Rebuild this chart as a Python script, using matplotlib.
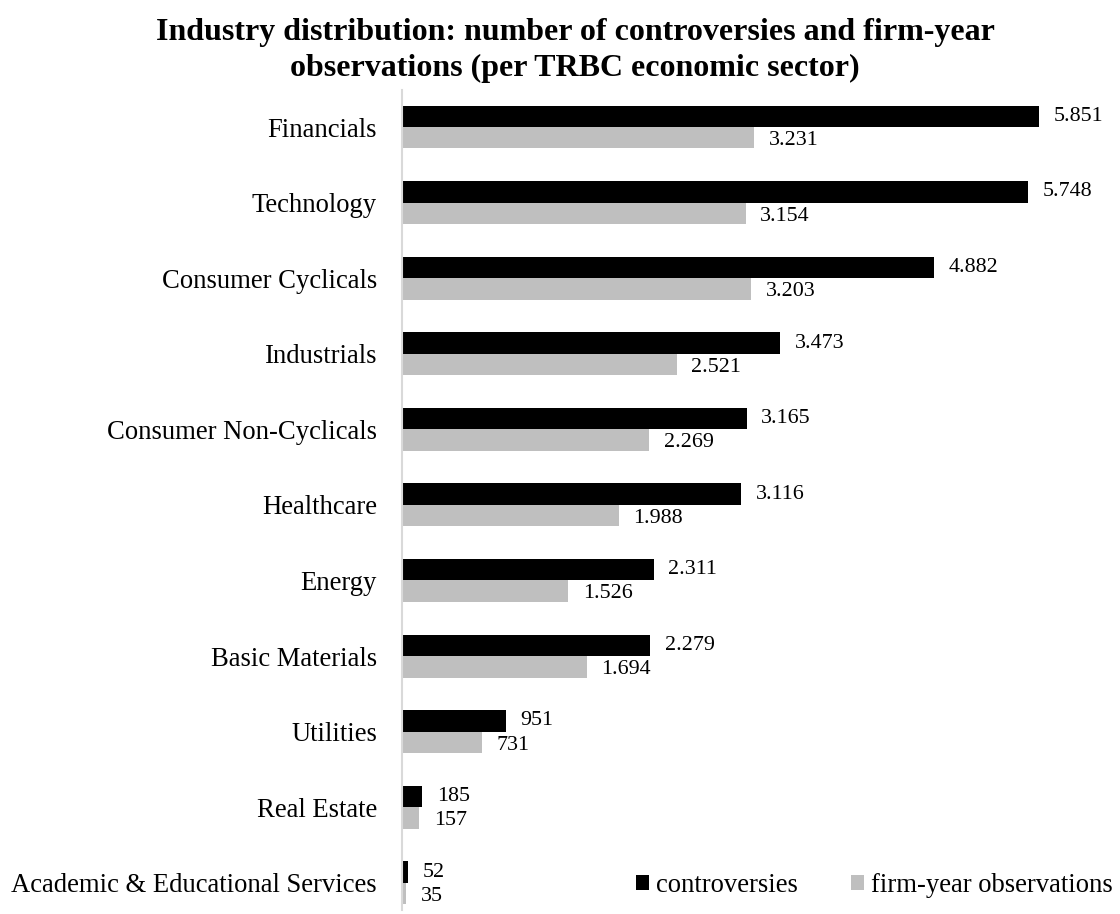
import matplotlib
matplotlib.use("Agg")
import matplotlib.pyplot as plt
import numpy as np

sectors = [
    "Financials", "Technology", "Consumer Cyclicals", "Industrials",
    "Consumer Non-Cyclicals", "Healthcare", "Energy", "Basic Materials",
    "Utilities", "Real Estate", "Academic & Educational Services",
]
controversies = [5851, 5748, 4882, 3473, 3165, 3116, 2311, 2279, 951, 185, 52]
firm_years = [3231, 3154, 3203, 2521, 2269, 1988, 1526, 1694, 731, 157, 35]

plt.rcParams["font.family"] = ["Liberation Serif", "DejaVu Serif"]

fig = plt.figure(figsize=(11.2, 9.14), dpi=100)
ax = fig.add_axes([402 / 1120, 1 - 910 / 914, (1110 - 402) / 1120, (910 - 90) / 914])

y = np.arange(len(sectors))
h = 0.284
ax.barh(y - h / 2, controversies, height=h, color="black", label="controversies")
ax.barh(y + h / 2, firm_years, height=h, color="#bfbfbf", label="firm-year observations")


def fmt(v):
    return f"{v:,}".replace(",", ".")


for yi, c, f in zip(y, controversies, firm_years):
    ax.annotate(fmt(c), (c, yi - h / 2), xytext=(10.5, 0), textcoords="offset points",
                va="center", ha="left", fontsize=15.8)
    ax.annotate(fmt(f), (f, yi + h / 2), xytext=(10.5, -2), textcoords="offset points",
                va="center", ha="left", fontsize=15.8)

ax.set_xlim(0, 6500)
ax.set_ylim(10.36, -0.49)
ax.set_yticks(y)
ax.set_yticklabels(sectors, fontsize=19.2)
ax.tick_params(axis="y", length=0, pad=18)
ax.set_xticks([])
for s in ["top", "right", "bottom"]:
    ax.spines[s].set_visible(False)
ax.spines["left"].set_color("#d9d9d9")
ax.spines["left"].set_linewidth(1.5)

fig.suptitle("Industry distribution: number of controversies and firm-year\nobservations (per TRBC economic sector)",
             fontsize=23, fontweight="bold", y=0.980, x=575 / 1120, linespacing=1.3)

handles, labels = ax.get_legend_handles_labels()
fig.legend(handles, labels, loc="center left", bbox_to_anchor=(636 / 1120, 1 - 885 / 914),
           ncol=2, frameon=False, fontsize=19.2, handlelength=0.49, handleheight=0.49,
           handletextpad=0.26, columnspacing=2.0, borderpad=0, borderaxespad=0)

fig.savefig("out.png", dpi=100)
